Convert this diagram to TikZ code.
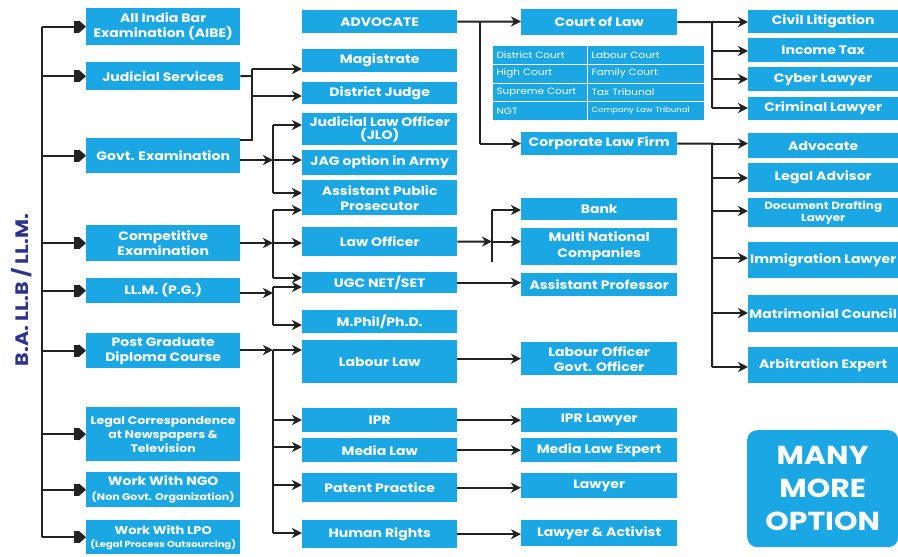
\documentclass[tikz,border=0pt]{standalone}
\usepackage{fontspec}
\setmainfont{Poppins}[FakeStretch=1.15]
\usetikzlibrary{arrows.meta}
\definecolor{boxblue}{RGB}{27,167,228}
\definecolor{lnc}{RGB}{34,34,34}
\definecolor{navy}{RGB}{45,50,140}
\tikzset{
 box/.style={fill=boxblue, text=white, inner sep=0pt, anchor=north west, align=center, font=\bfseries\fontsize{12.2}{15}\selectfont},
 ln/.style={draw=lnc, line width=2pt},
 arr/.style={ln, -{Stealth[length=10pt,width=10pt,inset=3pt]}},
 bigarr/.style={ln, -{Square[length=5pt,width=12pt] Triangle[length=7pt,width=12pt]}},
 cell/.style={fill=boxblue, draw=white, line width=1pt, text=white, anchor=north west, inner sep=0pt, inner xsep=4pt, minimum height=18.75pt, align=left, font=\fontsize{9.1}{10}\selectfont},
}
\begin{document}
\begin{tikzpicture}[x=1pt,y=-1pt]
\useasboundingbox[fill=white] (0,0) rectangle (898,557);
% title
\node[rotate=90, text=navy, font=\bfseries\fontsize{18}{18}\selectfont] (title) at (22,290) {B.A. LL.B / LL.M.};
% column 1
\node[box, minimum width=154pt, minimum height=37pt] (aibe) at (86,8) {All India Bar\\Examination (AIBE)};
\node[box, minimum width=154pt, minimum height=28pt] (jud) at (86,62) {Judicial Services};
\node[box, minimum width=154pt, minimum height=35pt] (govt) at (86,138) {Govt. Examination};
\node[box, minimum width=154pt, minimum height=36pt] (comp) at (86,225) {Competitive\\Examination};
\node[box, minimum width=154pt, minimum height=25pt] (llm) at (86,278) {LL.M. (P.G.)};
\node[box, minimum width=154pt, minimum height=35pt] (pgdc) at (86,333) {Post Graduate\\Diploma Course};
\node[box, minimum width=154pt, minimum height=54pt, font=\bfseries\fontsize{10.9}{14}\selectfont] (lc) at (86,407) {Legal Correspondence\\at Newspapers \&\\Television};
\node[box, minimum width=154pt, minimum height=35pt] (ngo) at (86,472) {Work With NGO\\{\fontsize{9.6}{13}\selectfont (Non Govt. Organization)}};
\node[box, minimum width=154pt, minimum height=34pt, font=\bfseries\fontsize{11.3}{13}\selectfont] (lpo) at (86,520) {Work With LPO\\{\fontsize{8.7}{13}\selectfont (Legal Process Outsourcing)}};
% column 2
\node[box, minimum width=155pt, minimum height=23pt] (adv) at (302,10) {ADVOCATE};
\node[box, minimum width=155pt, minimum height=23pt] (mag) at (302,49) {Magistrate};
\node[box, minimum width=155pt, minimum height=22pt] (dj) at (302,82) {District Judge};
\node[box, minimum width=155pt, minimum height=32pt, font=\bfseries\fontsize{12.2}{13.5}\selectfont] (jlo) at (302,113) {Judicial Law Officer\\(JLO)};
\node[box, minimum width=155pt, minimum height=25pt] (jag) at (302,150) {JAG option in Army};
\node[box, minimum width=155pt, minimum height=35pt] (app) at (302,180) {Assistant Public\\Prosecutor};
\node[box, minimum width=155pt, minimum height=29pt] (lo) at (302,227) {Law Officer};
\node[box, minimum width=155pt, minimum height=21pt] (ugc) at (302,272) {UGC NET/SET};
\node[box, minimum width=155pt, minimum height=23pt] (mph) at (302,310) {M.Phil/Ph.D.};
\node[box, minimum width=155pt, minimum height=43pt] (ll) at (302,340) {Labour Law};
\node[box, minimum width=155pt, minimum height=24pt] (ipr) at (302,408) {IPR};
\node[box, minimum width=155pt, minimum height=24pt] (ml) at (302,438) {Media Law};
\node[box, minimum width=155pt, minimum height=29pt] (pp) at (302,473) {Patent Practice};
\node[box, minimum width=155pt, minimum height=28pt] (hr) at (302,520) {Human Rights};
% column 3
\node[box, minimum width=156pt, minimum height=26pt] (col) at (521,9) {Court of Law};
\node[cell, text width=87pt] (t11) at (492,45) {District Court};
\node[cell, text width=109pt] (t12) at (587,45) {Labour Court};
\node[cell, text width=87pt] (t21) at (492,63.75) {High Court};
\node[cell, text width=109pt] (t22) at (587,63.75) {Family Court};
\node[cell, text width=87pt] (t31) at (492,82.5) {Supreme Court};
\node[cell, text width=109pt] (t32) at (587,82.5) {Tax Tribunal};
\node[cell, text width=87pt] (t41) at (492,101.25) {NGT};
\node[cell, text width=109pt, font=\fontsize{7.4}{8}\selectfont] (t42) at (587,101.25) {Company Law Tribunal};
\node[box, minimum width=156pt, minimum height=23pt] (clf) at (521,132) {Corporate Law Firm};
\node[box, minimum width=156pt, minimum height=22pt] (bank) at (521,198) {Bank};
\node[box, minimum width=156pt, minimum height=37pt, font=\bfseries\fontsize{12.2}{16}\selectfont] (mnc) at (521,228) {Multi National\\Companies};
\node[box, minimum width=156pt, minimum height=23pt] (ap) at (521,273) {Assistant Professor};
\node[box, minimum width=156pt, minimum height=33pt, font=\bfseries\fontsize{12.2}{15}\selectfont] (lof) at (521,342) {Labour Officer\\Govt. Officer};
\node[box, minimum width=156pt, minimum height=24pt] (iprl) at (521,408) {IPR Lawyer};
\node[box, minimum width=156pt, minimum height=24pt] (mle) at (521,438) {Media Law Expert};
\node[box, minimum width=156pt, minimum height=25pt] (lw) at (521,473) {Lawyer};
\node[box, minimum width=156pt, minimum height=26pt] (la) at (521,520) {Lawyer \& Activist};
% column 4
\node[box, minimum width=150pt, minimum height=23pt] (cl) at (748,10) {Civil Litigation};
\node[box, minimum width=150pt, minimum height=24pt] (it) at (748,38) {Income Tax};
\node[box, minimum width=150pt, minimum height=24pt] (cy) at (748,67) {Cyber Lawyer};
\node[box, minimum width=150pt, minimum height=23pt] (cr) at (748,97) {Criminal Lawyer};
\node[box, minimum width=150pt, minimum height=25pt] (adv2) at (748,133) {Advocate};
\node[box, minimum width=150pt, minimum height=29pt] (la2) at (748,163) {Legal Advisor};
\node[box, minimum width=150pt, minimum height=29pt, font=\bfseries\fontsize{10.4}{12}\selectfont] (dd) at (748,198) {Document Drafting\\Lawyer};
\node[box, minimum width=150pt, minimum height=36pt] (im) at (748,242) {Immigration Lawyer};
\node[box, minimum width=150pt, minimum height=37pt] (mc) at (748,295) {Matrimonial Council};
\node[box, minimum width=150pt, minimum height=36pt] (ae) at (748,347) {Arbitration Expert};
\node[box, rounded corners=10pt, minimum width=151pt, minimum height=117pt, font=\bfseries\fontsize{26}{33}\selectfont] (many) at (747,430) {MANY\\MORE\\OPTION};
% trunk
\coordinate (trunk) at (42,0);
\draw[ln] (aibe.west -| trunk) -- (lpo.west -| trunk);
\foreach \n in {aibe,jud,govt,comp,llm,pgdc,lc,ngo,lpo}
  \draw[bigarr] (\n.west -| trunk) -- (\n.west);
% bracket A
\coordinate (A0) at (252,76);
\coordinate (A1) at (252,69);
\coordinate (A2) at (252,96);
\coordinate (A3) at (252,140);
\draw[ln] (jud.east) -- (A0);
\draw[ln] (A1) -- (A3) -- (A3 -| govt.east);
\draw[arr] (A1) -- (A1 -| mag.west);
\draw[arr] (A2) -- (A2 -| dj.west);
% bracket B
\coordinate (B1) at (273,125);
\coordinate (B2) at (273,160);
\coordinate (B3) at (273,193);
\draw[arr] (B2 -| govt.east) -- (B2);
\draw[ln] (B1) -- (B3);
\draw[arr] (B1) -- (B1 -| jlo.west);
\draw[arr] (B2) -- (B2 -| jag.west);
\draw[arr] (B3) -- (B3 -| app.west);
% bracket C
\coordinate (C1) at (273,210);
\coordinate (C2) at (273,243);
\coordinate (C3) at (273,278);
\draw[arr] (C2 -| comp.east) -- (C2);
\draw[ln] (C1) -- (C3);
\draw[arr] (C1) -- (C1 -| app.west);
\draw[arr] (C2) -- (C2 -| lo.west);
\draw[arr] (C3) -- (C3 -| ugc.west);
% bracket D
\coordinate (D1) at (273,287);
\coordinate (D2) at (273,293);
\coordinate (D3) at (273,325);
\draw[arr] (D2 -| llm.east) -- (D2);
\draw[ln] (D1) -- (D3);
\draw[arr] (D1) -- (D1 -| ugc.west);
\draw[arr] (D3) -- (D3 -| mph.west);
% bracket E
\coordinate (E1) at (273,350);
\coordinate (E2) at (273,420);
\coordinate (E3) at (273,447);
\coordinate (E4) at (273,485);
\coordinate (E5) at (273,533);
\draw[arr] (E1 -| pgdc.east) -- (E1);
\draw[ln] (E1) -- (E5);
\draw[arr] (E1) -- (E1 -| ll.west);
\draw[arr] (E2) -- (E2 -| ipr.west);
\draw[arr] (E3) -- (E3 -| ml.west);
\draw[arr] (E4) -- (E4 -| pp.west);
\draw[arr] (E5) -- (E5 -| hr.west);
% column 2 -> 3
\coordinate (F1) at (480,21.5);
\coordinate (F2) at (480,143.5);
\draw[arr] (adv.east) -- (F1) -- (F1 -| col.west);
\draw[ln] (F1) -- (F2);
\draw[arr] (F2) -- (F2 -| clf.west);
\coordinate (G0) at (492,241.5);
\coordinate (G1) at (492,210);
\coordinate (G2) at (492,262);
\draw[arr] (lo.east) -- (G0);
\draw[ln] (G1) -- (G2);
\draw[arr] (G1) -- (G1 -| bank.west);
\draw[arr] (G0) -- (G0 -| mnc.west);
\draw[arr] (ugc.east) -- (ugc.east -| ap.west);
\draw[arr] (lof.west -| ll.east) -- (lof.west);
\draw[arr] (ipr.east) -- (iprl.west);
\draw[arr] (ml.east) -- (mle.west);
\draw[arr] (pp.east) -- (pp.east -| lw.west);
\draw[arr] (hr.east) -- (hr.east -| la.west);
% column 3 -> 4
\coordinate (H0) at (712,22);
\coordinate (H1) at (712,51);
\coordinate (H2) at (712,79);
\coordinate (H3) at (712,108);
\draw[ln] (col.east) -- (H0) -- (H3);
\draw[arr] (H0) -- (H0 -| cl.west);
\draw[arr] (H1) -- (H1 -| it.west);
\draw[arr] (H2) -- (H2 -| cy.west);
\draw[arr] (H3) -- (H3 -| cr.west);
\coordinate (I0) at (712,143.5);
\coordinate (I1) at (712,178);
\coordinate (I2) at (712,211);
\coordinate (I3) at (712,258);
\coordinate (I4) at (712,313);
\coordinate (I5) at (712,367);
\draw[ln] (clf.east) -- (I0) -- (I5);
\draw[arr] (I0) -- (I0 -| adv2.west);
\draw[arr] (I1) -- (I1 -| la2.west);
\draw[arr] (I2) -- (I2 -| dd.west);
\draw[arr] (I3) -- (I3 -| im.west);
\draw[arr] (I4) -- (I4 -| mc.west);
\draw[arr] (I5) -- (I5 -| ae.west);
\end{tikzpicture}
\end{document}
